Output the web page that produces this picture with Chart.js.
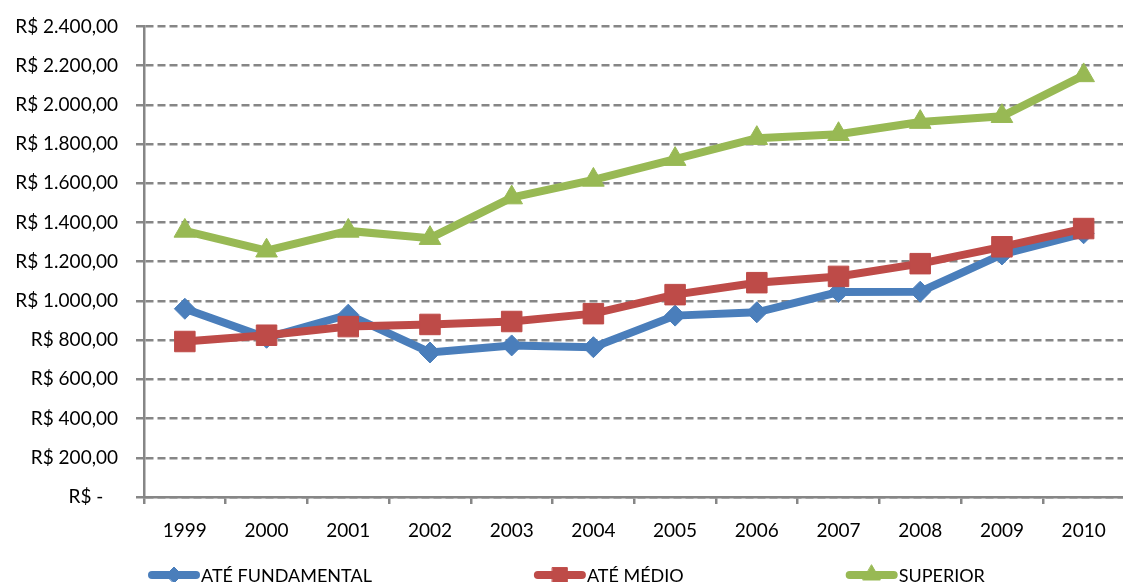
<!DOCTYPE html>
<html>
<head>
<meta charset="utf-8">
<script src="https://cdn.jsdelivr.net/npm/chart.js@4"></script>
<style>
  html, body { margin: 0; padding: 0; background: #fff; overflow: hidden; }
  #wrap { width: 1123px; height: 582px; overflow: hidden; }
  #chart { display: block; margin-top: -3px; }
</style>
</head>
<body>
<div id="wrap"><canvas id="chart" width="1140" height="603"></canvas></div>
<script>
const years = ['1999', '2000', '2001', '2002', '2003', '2004', '2005', '2006', '2007', '2008', '2009', '2010'];
const ateFundamental = [960, 812, 930, 737, 773, 764, 925, 942, 1045, 1047, 1237, 1345];
const ateMedio = [793, 825, 869, 880, 895, 935, 1032, 1093, 1125, 1190, 1276, 1369];
const superior = [1357, 1256, 1357, 1320, 1527, 1617, 1723, 1830, 1850, 1912, 1942, 2150];
const seriesNames = ['ATÉ FUNDAMENTAL', 'ATÉ MÉDIO', 'SUPERIOR'];

const FONT = 'Lato';
const GRID = '#868686';
const colors = { blue: '#4a7ebb', red: '#be4b48', green: '#98b954' };

function brl(v) {
  if (v === 0) return 'R$ -   ';
  const parts = v.toFixed(2).split('.');
  const int = parts[0].replace(/\B(?=(\d{3})+(?!\d))/g, '.');
  return `R$ ${int},${parts[1]}`;
}

// legend: line sample + marker, items spaced by a fixed gap like Excel does
const lineLegend = {
  id: 'lineLegend',
  afterDraw(chart) {
    const ctx = chart.ctx;
    const y = chart.chartArea.bottom + 78;
    let x = 148;
    ctx.save();
    ctx.font = `18px ${FONT}`;
    ctx.textBaseline = 'middle';
    chart.data.datasets.forEach((ds) => {
      ctx.strokeStyle = ds.borderColor;
      ctx.fillStyle = ds.borderColor;
      ctx.lineWidth = 8;
      ctx.lineCap = 'round';
      ctx.beginPath();
      ctx.moveTo(x + 4, y);
      ctx.lineTo(x + 48, y);
      ctx.stroke();
      ctx.lineWidth = 1;
      Chart.helpers.drawPoint(ctx, {
        pointStyle: ds.pointStyle,
        radius: ds.legendRadius,
        borderWidth: 1,
      }, x + 26, y);
      ctx.fillStyle = '#000';
      ctx.fillText(ds.label, x + 53, y + 1);
      x += 53 + ctx.measureText(ds.label).width + 162;
    });
    ctx.restore();
  },
};

function lineSet(label, data, color, style, radius, legendRadius, order) {
  return {
    label,
    data,
    borderColor: color,
    backgroundColor: color,
    borderWidth: 8,
    tension: 0,
    pointStyle: style,
    pointRadius: radius,
    pointHoverRadius: radius,
    pointBackgroundColor: color,
    pointBorderColor: color,
    pointBorderWidth: 1,
    legendRadius,
    order,
  };
}

new Chart(document.getElementById('chart'), {
  type: 'line',
  data: {
    labels: years,
    datasets: [
      lineSet(seriesNames[0], ateFundamental, colors.blue, 'rectRot', 10.5, 8, 3),
      lineSet(seriesNames[1], ateMedio, colors.red, 'rect', 14.5, 10.5, 2),
      lineSet(seriesNames[2], superior, colors.green, 'triangle', 12.5, 10, 1),
    ],
  },
  plugins: [lineLegend],
  options: {
    responsive: false,
    animation: false,
    layout: { padding: { top: 18, right: 11, left: 0, bottom: 0 } },
    plugins: { legend: { display: false }, tooltip: { enabled: false } },
    scales: {
      x: {
        offset: true,
        afterFit: (s) => { s.height = 103; },
        grid: {
          display: true,
          drawOnChartArea: false,
          offset: true,
          tickLength: 7,
          color: GRID,
          lineWidth: 2.5,
        },
        border: { color: GRID, width: 2.5 },
        ticks: { color: '#000', padding: 15, font: { family: FONT, size: 19 } },
      },
      y: {
        min: 0,
        max: 2400,
        afterFit: (s) => { s.width = 144; },
        ticks: {
          stepSize: 200,
          color: '#000',
          padding: 18,
          font: { family: FONT, size: 19 },
          callback: (v) => brl(v),
        },
        grid: {
          color: GRID,
          lineWidth: 2.5,
          tickLength: 8,
          tickBorderDash: [],
        },
        border: { color: GRID, width: 2.5, dash: [8, 4] },
      },
    },
  },
});
</script>
</body>
</html>
